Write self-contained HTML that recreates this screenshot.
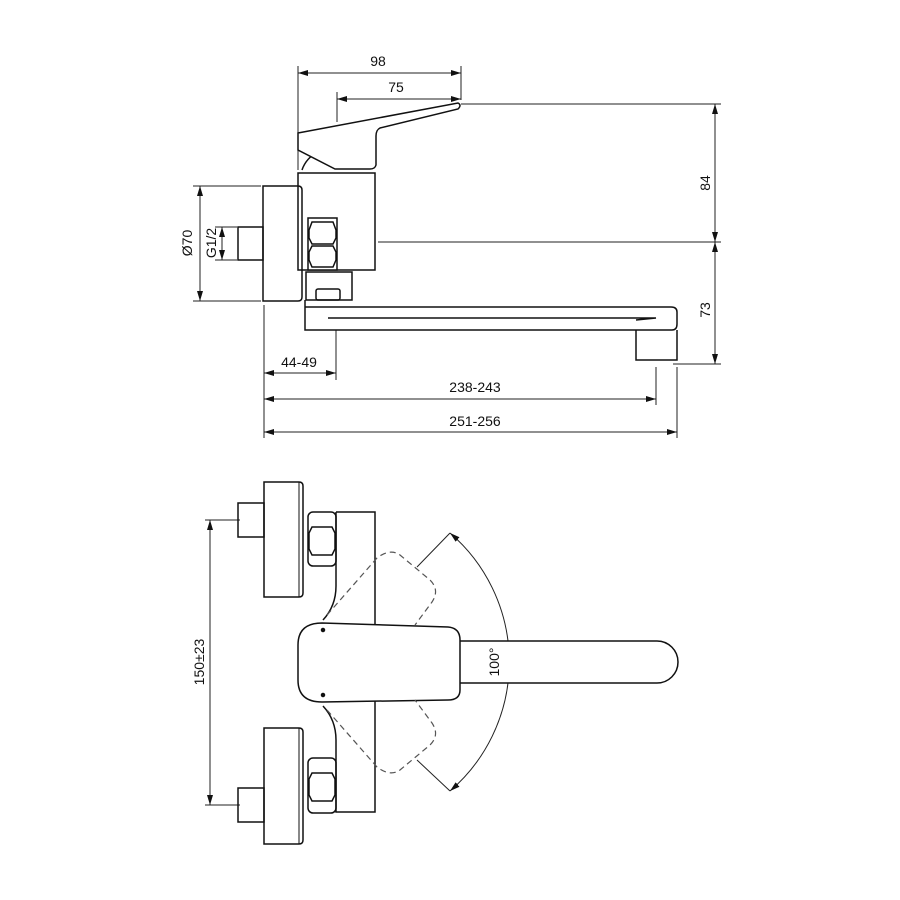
<!DOCTYPE html>
<html><head><meta charset="utf-8"><style>html,body{margin:0;padding:0;background:#fff}svg{display:block}text{font-family:"Liberation Sans",sans-serif;font-size:14px;fill:#111}</style></head><body>
<svg width="900" height="900" viewBox="0 0 900 900" xmlns="http://www.w3.org/2000/svg">
<defs><marker id="a" viewBox="0 0 10 10" refX="10" refY="5" markerWidth="10" markerHeight="10" markerUnits="userSpaceOnUse" orient="auto-start-reverse"><path d="M0,2 L10,5 L0,8 Z" fill="#111"/></marker></defs>
<g stroke="#222" stroke-width="1" fill="none">
<!-- dimensions top -->
<line x1="298" y1="66" x2="298" y2="170"/><line x1="461" y1="66" x2="461" y2="100"/>
<line x1="298" y1="73" x2="461" y2="73" marker-start="url(#a)" marker-end="url(#a)"/>
<line x1="337" y1="92" x2="337" y2="122"/>
<line x1="337" y1="99" x2="461" y2="99" marker-start="url(#a)" marker-end="url(#a)"/>
<line x1="461" y1="104" x2="721" y2="104"/><line x1="378" y1="242" x2="721" y2="242"/><line x1="673" y1="364" x2="721" y2="364"/>
<line x1="715" y1="104" x2="715" y2="242" marker-start="url(#a)" marker-end="url(#a)"/>
<line x1="715" y1="242" x2="715" y2="364" marker-start="url(#a)" marker-end="url(#a)"/>
<line x1="193" y1="186" x2="261" y2="186"/><line x1="193" y1="301" x2="261" y2="301"/>
<line x1="200" y1="186" x2="200" y2="301" marker-start="url(#a)" marker-end="url(#a)"/>
<line x1="215" y1="227" x2="237" y2="227"/><line x1="215" y1="260" x2="237" y2="260"/>
<line x1="222" y1="227" x2="222" y2="260" marker-start="url(#a)" marker-end="url(#a)"/>
<line x1="264" y1="305" x2="264" y2="438"/><line x1="336" y1="330" x2="336" y2="380"/>
<line x1="656" y1="367" x2="656" y2="405"/><line x1="677" y1="367" x2="677" y2="438"/>
<line x1="264" y1="373" x2="336" y2="373" marker-start="url(#a)" marker-end="url(#a)"/>
<line x1="264" y1="399" x2="656" y2="399" marker-start="url(#a)" marker-end="url(#a)"/>
<line x1="264" y1="432" x2="677" y2="432" marker-start="url(#a)" marker-end="url(#a)"/>
<line x1="205" y1="520" x2="240" y2="520"/><line x1="205" y1="805" x2="240" y2="805"/>
<line x1="210" y1="520" x2="210" y2="805" marker-start="url(#a)" marker-end="url(#a)"/>
<line x1="417" y1="567" x2="450" y2="533"/><line x1="417" y1="760" x2="450" y2="791"/>
<path d="M450,533 A170,170 0 0 1 450,791" marker-start="url(#a)" marker-end="url(#a)"/>
</g>
<g stroke="#111" stroke-width="1.5" fill="none">
<!-- top view parts -->
<rect x="238" y="227" width="25" height="33"/>
<path d="M263,186 H298 Q302,186 302,190 V297 Q302,301 298,301 H263 Z"/>
<rect x="298" y="173" width="77" height="97"/>
<rect x="308" y="218" width="29" height="52" fill="#fff"/>
<path d="M312,222 h21 l3,8 v8 l-3,6 h-21 l-3,-6 v-8 Z M312,246 h21 l3,6 v8 l-3,7 h-21 l-3,-7 v-8 Z"/>
<path d="M302,170 Q306,158 318,152"/>
<path d="M298,133 L458,103 Q462,105 458,109 L380,128 Q376,130 376,136 V165 Q375,169 370,169 H335 L298,150 Z" fill="#fff"/>
<rect x="306" y="272" width="46" height="28"/>
<rect x="316" y="289" width="24" height="11" rx="2"/>
<path d="M305,300 V330 H672 Q677,330 677,324 V312 Q677,307 671,307 H305"/>
<path d="M328,318 L656,318 L636,320"/>
<path d="M636,330 V360 H677 V330"/>
<!-- bottom view -->
<rect x="238" y="503" width="26" height="34"/>
<path d="M264,482 H299 Q303,482 303,486 V593 Q303,597 299,597 H264 Z"/><line x1="299" y1="482" x2="299" y2="597" stroke-width="1"/>
<rect x="238" y="788" width="26" height="34"/>
<path d="M264,728 H299 Q303,728 303,732 V840 Q303,844 299,844 H264 Z"/><line x1="299" y1="728" x2="299" y2="844" stroke-width="1"/>
<path d="M336,512 H375 V812 H336 V740 Q336,720 323,706 M323,620 Q336,606 336,586 V512"/>
<rect x="308" y="512" width="28" height="54" rx="5"/>
<path d="M312,527 h20 l3,6 v16 l-3,6 h-20 l-3,-6 v-16 Z"/>
<rect x="308" y="758" width="28" height="55" rx="5"/>
<path d="M312,773 h20 l3,6 v16 l-3,6 h-20 l-3,-6 v-16 Z"/>
<path d="M460,641 H657 A21,21 0 0 1 657,683 H460" fill="#fff"/>
<path d="M322,623 L448,627 Q460,628 460,640 V690 Q460,700 448,700 L322,702 Q298,702 298,680 V645 Q298,623 322,623 Z" fill="#fff"/>
<circle cx="323" cy="630" r="1.5" fill="#111"/><circle cx="323" cy="695" r="1.5" fill="#111"/>
<g stroke-dasharray="6,4" stroke="#555" stroke-width="1.2">
<path d="M327,615 L377,558 Q390,548 400,555 L430,580 Q440,590 432,602 L415,625"/>
<path d="M327,710 L377,767 Q390,777 400,770 L430,745 Q440,735 432,723 L415,700"/>
</g>
</g>
<text x="378" y="66" text-anchor="middle">98</text>
<text x="396" y="92" text-anchor="middle">75</text>
<text transform="translate(710,183) rotate(-90)" text-anchor="middle">84</text>
<text transform="translate(710,310) rotate(-90)" text-anchor="middle">73</text>
<text transform="translate(192,243) rotate(-90)" text-anchor="middle">Ø70</text>
<text transform="translate(216,243) rotate(-90)" text-anchor="middle">G1/2</text>
<text x="299" y="367" text-anchor="middle">44-49</text>
<text x="475" y="392" text-anchor="middle">238-243</text>
<text x="475" y="426" text-anchor="middle">251-256</text>
<text transform="translate(204,662) rotate(-90)" text-anchor="middle">150±23</text>
<text transform="translate(499,662) rotate(-90)" text-anchor="middle">100°</text>
</svg>
</body></html>
